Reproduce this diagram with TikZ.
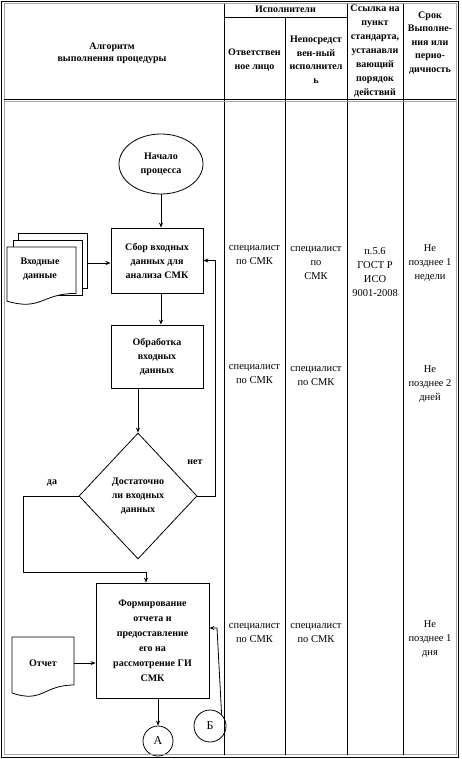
\documentclass[tikz,border=0pt]{standalone}
\usepackage{fontspec}
\setmainfont{Liberation Serif}
\usetikzlibrary{shapes.geometric,arrows.meta}
\newcommand\docpath[4]{% x0,y0,x1,h
  (#1,#2) -- (#3,#2) -- (#3,{#2+0.80*#4}) .. controls ({(#1+#3)/2},{#2+0.80*#4}) and ({(#1+#3)/2},{#2+1.107*#4}) .. (#1,{#2+0.934*#4}) -- cycle}
\begin{document}
\begin{tikzpicture}[x=1pt,y=-1pt,
  ln/.style={line width=0.8pt},
  arr/.style={line width=0.8pt,-{Stealth[length=5pt,width=4pt]}},
  flowbox/.style={draw,line width=0.8pt,inner sep=0pt,align=center,fill=white,
    font=\fontsize{10}{14}\selectfont\bfseries},
  flowtext/.style={inner sep=0pt,align=center,font=\fontsize{10}{14}\selectfont\bfseries},
  cell/.style={inner sep=0pt,align=center,font=\fontsize{10.5}{14}\selectfont},
  head/.style={inner sep=0pt,align=center,font=\fontsize{10}{13.5}\selectfont\bfseries},
  conn/.style={circle,draw,line width=0.8pt,fill=white,inner sep=0pt,font=\fontsize{12}{14}\selectfont}
]
\useasboundingbox (0,0) rectangle (461,759);
\fill[white] (0,0) rectangle (461,759);

% ---------- flowchart ----------
\node[flowbox,ellipse,minimum width=84pt,minimum height=60pt] (start) at (161,164) {Начало\\процесса};
\node[flowbox,minimum width=92pt,minimum height=65pt] (collect) at (157,260.5) {Сбор входных\\данных для\\анализа СМК};
\node[flowbox,minimum width=92pt,minimum height=63pt] (process) at (157,356.5) {Обработка\\входных\\данных};
\node[flowbox,diamond,minimum width=118pt,minimum height=126pt] (decide) at (138,496) {Достаточно\\ли входных\\данных};
\node[flowbox,minimum width=113pt,minimum height=115pt,font=\fontsize{10}{15}\selectfont\bfseries] (final) at (152.5,640.5) {Формирование\\отчета и\\предоставление\\его на\\рассмотрение ГИ\\СМК};
\node[conn,minimum size=30pt] (A) at (158,741) {А};
\node[conn,minimum size=32pt] (B) at (210,726) {Б};

% documents
\draw[ln,fill=white] (18,233) rectangle (87,288);
\draw[ln,fill=white] (13,240) rectangle (82,295);
\draw[ln,fill=white] \docpath{7}{247}{76}{58};
\node[flowtext] (inp) at (40,269) {Входные\\данные};
\draw[ln,fill=white] \docpath{12}{637}{74}{60};
\node[flowtext] (rep) at (43,663) {Отчет};

% labels
\node[flowtext] (yes) at (52,483) {да};
\node[flowtext] (no) at (195,462) {нет};

% connectors
\draw[arr] (start.south) -- (start.south |- collect.north);
\draw[arr] (collect.south -| start.south) -- (process.north -| start.south);
\draw[arr] (process.south -| decide.north) -- (decide.north);
\coordinate (fbx) at (215,400);
\draw[arr] (decide.east) -| (fbx |- collect.east) -- (collect.east);
\coordinate (inpR) at (87,263);
\draw[arr] (inpR) -- (inpR -| collect.west);
\coordinate (yesL) at (23,572);
\coordinate (yesR) at (146,572);
\draw[arr] (decide.west) -| (yesL) -- (yesR) -- (yesR |- final.north);
\coordinate (repR) at (74,663);
\draw[arr] (repR) -- (repR -| final.west);
\draw[arr] (final.south -| A.north) -- (A.north);
\coordinate (bturn) at (217,628);
\draw[arr] (B.north east) -- (bturn) -- (bturn -| final.east);

% ---------- table ----------
\draw[line width=1.2pt] (1.5,1.5) rectangle (458.5,757.5);
\draw[gray!70,line width=1pt] (4,4) rectangle (456,754.5);
\draw[ln] (224,4) -- (224,754.5);
\draw[ln] (347,4) -- (347,754.5);
\draw[ln] (403,4) -- (403,754.5);
\draw[ln] (285,17) -- (285,754.5);
\draw[ln] (224,17) -- (347,17);
\draw[line width=0.8pt] (4,99) -- (456,99);
\draw[gray!70,line width=1.2pt] (4,101.5) -- (456,101.5);

% header
\node[head,font=\fontsize{10}{12}\selectfont\bfseries] (h1) at (112,53) {Алгоритм\\выполнения процедуры};
\node[head] (h2) at (285.5,9) {Исполнители};
\node[head] (h3) at (254.5,60) {Ответствен\\ное лицо};
\node[head] (h4) at (316,59.5) {Непосредст\\вен-ный\\исполнител\\ь};
\node[head,font=\fontsize{10}{14}\selectfont\bfseries] (h5) at (375,51.5) {Ссылка на\\пункт\\стандарта,\\устанавли\\вающий\\порядок\\действий};
\node[head] (h6) at (430,43) {Срок\\Выполне-\\ния или\\перио-\\дичность};

% body rows
\node[cell] (r1a) at (254.5,255) {специалист\\по СМК};
\node[cell] (r1b) at (316,263.5) {специалист\\по\\СМК};
\node[cell] (r1c) at (375,272) {п.5.6\\ГОСТ Р\\ИСО\\9001-2008};
\node[cell] (r1d) at (430,263.5) {Не\\позднее 1\\недели};
\node[cell] (r2a) at (254.5,374.5) {специалист\\по СМК};
\node[cell] (r2b) at (316,376.5) {специалист\\по СМК};
\node[cell] (r2d) at (430,384.5) {Не\\позднее 2\\дней};
\node[cell] (r3a) at (254.5,633.5) {специалист\\по СМК};
\node[cell] (r3b) at (316,633.5) {специалист\\по СМК};
\node[cell] (r3d) at (430,639) {Не\\позднее 1\\дня};
\end{tikzpicture}
\end{document}
